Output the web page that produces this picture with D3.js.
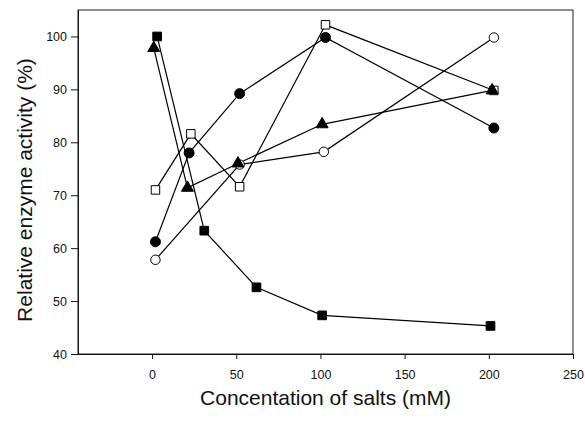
<!DOCTYPE html>
<html><head><meta charset="utf-8">
<script src="https://cdn.jsdelivr.net/npm/d3@7"></script>
<style>body{margin:0;background:#fff}svg{display:block}</style>
</head><body>
<svg id="c" width="585" height="422"></svg>
<script>
const xTicks = [0, 50, 100, 150, 200, 250];
const yTicks = [40, 50, 60, 70, 80, 90, 100];

const filledSquareX = [3, 31, 62, 101, 201];
const filledSquareY = [100, 63.3, 52.6, 47.3, 45.3];

const openSquareX = [2, 23, 52, 103, 203];
const openSquareY = [71.0, 81.6, 71.6, 102.2, 89.8];

const triangleX = [1, 21, 51, 101, 202];
const triangleY = [97.8, 71.4, 76.0, 83.4, 89.8];

const filledCircleX = [2, 22, 52, 103, 203];
const filledCircleY = [61.2, 78.0, 89.2, 99.8, 82.7];

const openCircleX = [2, 52, 102, 203];
const openCircleY = [57.8, 75.8, 78.2, 99.8];

const svg = d3.select("#c");
const font = "'Liberation Sans', Arial, Helvetica, sans-serif";
const L = 78, R = 573, T = 10, B = 354;
const x = d3.scaleLinear().domain([-44, 250]).range([L, R]);
const y = d3.scaleLinear().domain([40, 105]).range([B, T]);

// frame
svg.append("rect").attr("x", L).attr("y", T).attr("width", R - L).attr("height", B - T)
  .attr("fill", "none").attr("stroke", "#222").attr("stroke-width", 1);

const gx = svg.append("g").attr("transform", `translate(0,${B})`)
  .call(d3.axisBottom(x).tickValues(xTicks).tickSize(5).tickSizeOuter(0).tickPadding(11.5));
const gy = svg.append("g").attr("transform", `translate(${L},0)`)
  .call(d3.axisLeft(y).tickValues(yTicks).tickSize(7).tickSizeOuter(0).tickPadding(4));
[gx, gy].forEach(g => {
  g.selectAll("path,line").attr("stroke", "#111").attr("stroke-width", 1);
  g.selectAll("text").attr("font-family", font).attr("font-size", 12.5).attr("fill", "#111");
});

svg.append("text").attr("x", 325.5).attr("y", 405).attr("text-anchor", "middle")
  .attr("font-family", font).attr("font-size", 21).attr("fill", "#111")
  .text("Concentation of salts (mM)");
svg.append("text").attr("transform", "rotate(-90)").attr("x", -190).attr("y", 32)
  .attr("text-anchor", "middle").attr("font-family", font).attr("font-size", 21).attr("fill", "#111")
  .text("Relative enzyme activity (%)");

const series = [
  {xs: openCircleX, ys: openCircleY, sym: d3.symbolCircle, fill: "#fff", size: 70},
  {xs: filledCircleX, ys: filledCircleY, sym: d3.symbolCircle, fill: "#000", size: 78},
  {xs: openSquareX, ys: openSquareY, sym: d3.symbolSquare, fill: "#fff", size: 72},
  {xs: filledSquareX, ys: filledSquareY, sym: d3.symbolSquare, fill: "#000", size: 75},
  {xs: triangleX, ys: triangleY, sym: d3.symbolTriangle, fill: "#000", size: 62}
];
const line = d3.line().x(d => x(d[0])).y(d => y(d[1]));
series.forEach(s => {
  const pts = s.xs.map((v, i) => [v, s.ys[i]]);
  svg.append("path").attr("d", line(pts)).attr("fill", "none")
    .attr("stroke", "#000").attr("stroke-width", 1.2);
});
series.forEach(s => {
  const pts = s.xs.map((v, i) => [v, s.ys[i]]);
  svg.append("g").selectAll("path").data(pts).join("path")
    .attr("transform", d => `translate(${x(d[0])},${y(d[1])})`)
    .attr("d", d3.symbol().type(s.sym).size(s.size))
    .attr("fill", s.fill).attr("stroke", "#000").attr("stroke-width", 1);
});
</script>
</body></html>
